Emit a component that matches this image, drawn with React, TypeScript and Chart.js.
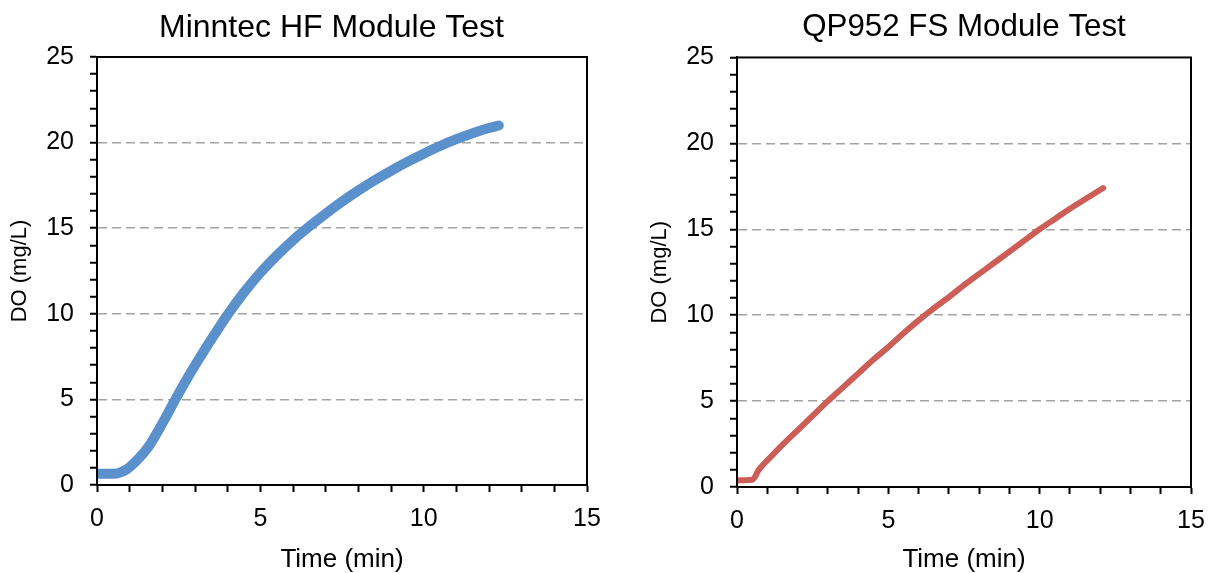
import React, { useEffect, useRef } from "react";
import { Chart, registerables } from "chart.js";

Chart.register(...registerables);

const FONT = "'Liberation Sans', Arial, Helvetica, sans-serif";

// Minntec HF Module Test
const minntecTime = [0, 0.3, 0.6, 0.8, 1.0, 1.3, 1.6, 2.0, 2.4, 2.8, 3.2, 3.6, 4.0, 4.5, 5.0, 5.5, 6.0, 6.5, 7.0, 7.5, 8.0, 8.5, 9.0, 9.5, 10.0, 10.5, 11.0, 11.5, 12.0, 12.3];
const minntecDO = [0.65, 0.65, 0.67, 0.8, 1.05, 1.6, 2.3, 3.6, 5.0, 6.35, 7.6, 8.8, 9.95, 11.25, 12.4, 13.4, 14.3, 15.1, 15.85, 16.55, 17.2, 17.8, 18.35, 18.87, 19.35, 19.8, 20.2, 20.55, 20.85, 21.0];

// QP952 FS Module Test
const qpTime = [0, 0.25, 0.5, 0.6, 0.7, 0.86, 1.0, 1.5, 2.0, 2.5, 3.0, 3.5, 4.0, 4.5, 5.0, 5.5, 6.0, 6.5, 7.0, 7.5, 8.0, 8.5, 9.0, 9.5, 10.0, 10.5, 11.0, 11.5, 12.1];
const qpDO = [0.4, 0.4, 0.42, 0.6, 0.95, 1.3, 1.55, 2.45, 3.3, 4.15, 5.0, 5.8, 6.6, 7.4, 8.15, 8.95, 9.7, 10.4, 11.05, 11.75, 12.4, 13.05, 13.7, 14.35, 15.0, 15.6, 16.2, 16.75, 17.4];

const xTickLabels = [0, 5, 10, 15];
const yTickLabels = [0, 5, 10, 15, 20, 25];

const xTitle = "Time (min)";
const yTitle = "DO (mg/L)";

const framePlugin = {
  id: "frame",
  afterDraw(chart: any) {
    const { ctx, chartArea } = chart;
    const { left, top, right, bottom } = chartArea;
    ctx.save();
    ctx.strokeStyle = "#000";
    ctx.lineWidth = 2;
    ctx.strokeRect(left, top, right - left, bottom - top);
    ctx.restore();
  },
};

type Props = {
  title: string;
  titleSize: number;
  times: number[];
  values: number[];
  color: string;
  lineWidth: number;
  left: number;
  width: number;
  rightSpacer: number;
  xAxisHeight: number;
  titlePadBottom: number;
  titleFullSize: boolean;
};

function DOChart(p: Props) {
  const ref = useRef<HTMLCanvasElement | null>(null);
  useEffect(() => {
    if (!ref.current) return;
    const data = p.times.map((t, i) => ({ x: t, y: p.values[i] }));
    const scales: any = {
      x: {
        type: "linear",
        min: 0,
        max: 15,
        afterFit: (s: any) => {
          s.height = p.xAxisHeight;
          s.paddingLeft = 0;
          s.paddingRight = 0;
        },
        ticks: {
          stepSize: 1,
          autoSkip: false,
          maxRotation: 0,
          color: "#000",
          padding: 12,
          font: { family: FONT, size: 25, lineHeight: 1.2 },
          callback: (v: any) => (xTickLabels.includes(Number(v)) ? String(v) : ""),
        },
        grid: {
          drawOnChartArea: false,
          drawTicks: true,
          tickLength: 7,
          tickWidth: 2,
          tickColor: "#000",
          color: "rgba(0,0,0,0)",
        },
        border: { display: true, color: "#000", width: 2 },
        title: {
          display: true,
          text: xTitle,
          color: "#000",
          font: { family: FONT, size: 26, lineHeight: 1.2 },
          padding: { top: 0, bottom: -2.6 },
        },
      },
      y: {
        type: "linear",
        position: "left",
        min: 0,
        max: 25,
        afterFit: (s: any) => {
          s.width = 97;
        },
        ticks: {
          stepSize: 1,
          maxTicksLimit: 100,
          autoSkip: false,
          color: "#000",
          padding: 16,
          font: { family: FONT, size: 25, lineHeight: 1.2 },
          callback: (v: any) => (yTickLabels.includes(Number(v)) ? String(v) : ""),
        },
        grid: {
          drawOnChartArea: true,
          drawTicks: true,
          tickLength: 7,
          tickWidth: 2,
          tickColor: "#000",
          lineWidth: 1.5,
          color: (ctx: any) => {
            const v = ctx.tick ? ctx.tick.value : -1;
            return v > 0 && v < 25 && v % 5 === 0 ? "#A3A3A3" : "rgba(0,0,0,0)";
          },
        },
        border: { display: true, color: "#000", width: 2, dash: [9, 5] },
        title: {
          display: true,
          text: yTitle,
          color: "#000",
          font: { family: FONT, size: 22, lineHeight: 1.2 },
          padding: { top: 6.8, bottom: 0 },
        },
      },
      y2: {
        type: "linear",
        position: "right",
        display: true,
        min: 0,
        max: 1,
        afterFit: (s: any) => {
          s.width = p.rightSpacer;
        },
        ticks: { display: false },
        grid: { display: false, drawTicks: false },
        border: { display: false },
        title: { display: false },
      },
    };
    const chart = new Chart(ref.current, {
      type: "line",
      data: {
        datasets: [
          {
            data,
            yAxisID: "y",
            borderColor: p.color,
            backgroundColor: p.color,
            borderWidth: p.lineWidth,
            borderCapStyle: "round",
            borderJoinStyle: "round",
            pointRadius: 0,
            cubicInterpolationMode: "monotone",
            fill: false,
          },
        ],
      },
      options: {
        responsive: false,
        animation: false,
        events: [],
        layout: { padding: 0 },
        plugins: {
          legend: { display: false },
          tooltip: { enabled: false },
          title: {
            display: true,
            text: p.title,
            color: "#000",
            fullSize: p.titleFullSize,
            font: { family: FONT, size: p.titleSize, weight: "normal", lineHeight: 1.2 },
            padding: { top: 9, bottom: p.titlePadBottom },
          },
        },
        scales,
      },
      plugins: [framePlugin],
    } as any);
    return () => chart.destroy();
  }, []);
  return (
    <canvas
      ref={ref}
      width={p.width}
      height={573}
      style={{ position: "absolute", left: p.left, top: 0, display: "block" }}
    />
  );
}

export default function App() {
  return (
    <div
      style={{
        position: "absolute",
        left: 0,
        top: 0,
        width: 1209,
        height: 573,
        overflow: "hidden",
        background: "#fff",
      }}
    >
      <DOChart
        title="Minntec HF Module Test"
        titleSize={32}
        times={minntecTime}
        values={minntecDO}
        color="#5A90CB"
        lineWidth={10}
        left={0}
        width={663}
        rightSpacer={76}
        xAxisHeight={88}
        titlePadBottom={9.6}
        titleFullSize={true}
      />
      <DOChart
        title="QP952 FS Module Test"
        titleSize={31.3}
        times={qpTime}
        values={qpDO}
        color="#CC5E57"
        lineWidth={6}
        left={640}
        width={569}
        rightSpacer={18}
        xAxisHeight={86}
        titlePadBottom={10.9}
        titleFullSize={false}
      />
    </div>
  );
}
